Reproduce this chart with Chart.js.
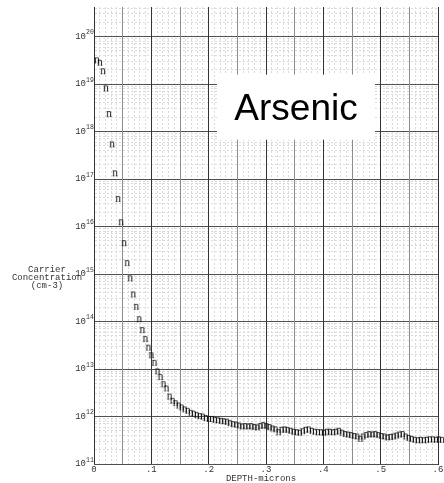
<!DOCTYPE html>
<html>
<head>
<meta charset="utf-8">
<script src="https://cdn.jsdelivr.net/npm/chart.js@4.4.1/dist/chart.umd.min.js"></script>
<style>
  html, body { margin: 0; padding: 0; background: #fff; }
  canvas { display: block; }
</style>
</head>
<body>
<canvas id="profile" width="444" height="483"></canvas>
<script>
// Depth below the surface (microns)
const depthMicrons = [
  0.0000, 0.0053, 0.0106, 0.0158, 0.0211, 0.0264, 0.0317, 0.0370, 0.0422, 0.0475,
  0.0528, 0.0581, 0.0634, 0.0686, 0.0739, 0.0792, 0.0845, 0.0898, 0.0950, 0.1003,
  0.1056, 0.1109, 0.1162, 0.1214, 0.1267, 0.1320, 0.1373, 0.1426, 0.1478, 0.1531,
  0.1584, 0.1637, 0.1690, 0.1742, 0.1795, 0.1848, 0.1901, 0.1954, 0.2006, 0.2059,
  0.2112, 0.2165, 0.2218, 0.2270, 0.2323, 0.2376, 0.2429, 0.2482, 0.2534, 0.2587,
  0.2640, 0.2693, 0.2746, 0.2798, 0.2851, 0.2904, 0.2957, 0.3010, 0.3062, 0.3115,
  0.3168, 0.3221, 0.3274, 0.3326, 0.3379, 0.3432, 0.3485, 0.3538, 0.3590, 0.3643,
  0.3696, 0.3749, 0.3802, 0.3854, 0.3907, 0.3960, 0.4013, 0.4066, 0.4118, 0.4171,
  0.4224, 0.4277, 0.4330, 0.4382, 0.4435, 0.4488, 0.4541, 0.4594, 0.4646, 0.4699,
  0.4752, 0.4805, 0.4858, 0.4910, 0.4963, 0.5016, 0.5069, 0.5122, 0.5174, 0.5227,
  0.5280, 0.5333, 0.5386, 0.5438, 0.5491, 0.5544, 0.5597, 0.5650, 0.5702, 0.5755,
  0.5808, 0.5861, 0.5914, 0.5966, 0.6019, 0.6072
];

// Electron (n-type) carrier concentration (cm-3)
const carrierConc = [
  3.16e19, 2.82e19, 1.86e19, 8.13e18, 2.34e18, 5.37e17, 1.32e17, 3.80e16, 1.23e16, 4.47e15,
  1.70e15, 8.13e14, 3.72e14, 2.04e14, 1.12e14, 6.61e13, 4.27e13, 2.82e13, 1.95e13, 1.35e13,
  8.91e12, 6.76e12, 4.79e12, 3.89e12, 2.63e12, 2.14e12, 1.91e12, 1.70e12, 1.55e12, 1.41e12,
  1.32e12, 1.20e12, 1.15e12, 1.07e12, 1.02e12, 1.00e12, 9.33e11, 8.91e11, 8.91e11, 8.51e11,
  8.32e11, 8.13e11, 7.94e11, 7.76e11, 7.24e11, 6.92e11, 6.76e11, 6.46e11, 6.17e11, 6.31e11,
  6.17e11, 6.31e11, 6.03e11, 5.89e11, 6.31e11, 6.61e11, 6.31e11, 6.03e11, 5.62e11, 5.37e11,
  4.68e11, 5.25e11, 5.37e11, 5.25e11, 5.01e11, 4.79e11, 4.68e11, 4.57e11, 4.90e11, 5.25e11,
  5.37e11, 5.01e11, 4.79e11, 4.68e11, 4.68e11, 4.57e11, 4.79e11, 4.79e11, 4.68e11, 4.79e11,
  5.01e11, 4.57e11, 4.27e11, 4.17e11, 4.07e11, 3.89e11, 3.80e11, 3.39e11, 3.80e11, 4.07e11,
  4.27e11, 4.17e11, 4.27e11, 4.07e11, 3.89e11, 3.80e11, 3.63e11, 3.72e11, 3.80e11, 3.98e11,
  4.17e11, 4.27e11, 3.80e11, 3.55e11, 3.39e11, 3.24e11, 3.16e11, 3.24e11, 3.16e11, 3.24e11,
  3.31e11, 3.31e11, 3.24e11, 3.31e11, 3.24e11, 3.31e11
];

// Axis labelling
const xTickLabels = ['0', '.1', '.2', '.3', '.4', '.5', '.6'];
const yDecades = [11, 12, 13, 14, 15, 16, 17, 18, 19, 20];
const yMantissas = [1, 2, 3, 4, 5, 6, 7, 8, 9];
const yTitleLines = ['Carrier', 'Concentration', '(cm-3)'];
const xTitle = 'DEPTH-microns';
const speciesName = 'Arsenic';

const MONO = '"Courier New", "Liberation Mono", monospace';
const TEXT_COLOR = '#333';
const MINOR_GRID = '#dadada';

// Plot symbol: the letter "n", placed with its left edge on the point
function letterGlyph(ch) {
  const c = document.createElement('canvas');
  c.width = 14;
  c.height = 12;
  const g = c.getContext('2d');
  g.font = '11.5px "Liberation Serif", "DejaVu Serif", serif';
  g.fillStyle = '#111';
  g.textAlign = 'left';
  g.textBaseline = 'alphabetic';
  g.fillText(ch, 7, 8.5);
  return c;
}

const points = depthMicrons.map((d, i) => ({ x: d, y: carrierConc[i] }));

function xHundredths(v) { return Math.round(v * 100); }
function isMajorX(v) { return xHundredths(v) % 5 === 0; }

// Species name box, anchored in data space
const nameBox = { x0: 0.2145, x1: 0.49, yLow: 6.76e17, yHigh: 1.58e19, textX: 0.3523, textY: 1.78e18 };

function crisp(p) { return Math.round(p - 0.5) + 0.5; }

const decorations = {
  id: 'decorations',
  beforeDatasetsDraw(chart) {
    const { ctx, chartArea: a, scales: { x, y } } = chart;
    ctx.save();
    ctx.lineWidth = 1;
    // Heavy grid lines go over the light ones
    y.ticks.filter(t => t.major).forEach(t => {
      const py = crisp(y.getPixelForValue(t.value));
      ctx.strokeStyle = '#505050';
      ctx.beginPath(); ctx.moveTo(a.left, py); ctx.lineTo(a.right, py); ctx.stroke();
    });
    x.ticks.filter(t => isMajorX(t.value)).forEach(t => {
      const px = crisp(x.getPixelForValue(t.value));
      ctx.strokeStyle = xHundredths(t.value) % 10 === 0 ? '#333' : '#8c8c8c';
      ctx.beginPath(); ctx.moveTo(px, a.top); ctx.lineTo(px, a.bottom); ctx.stroke();
    });

    // Species name on a white panel
    const l = x.getPixelForValue(nameBox.x0);
    const r = x.getPixelForValue(nameBox.x1);
    const t = y.getPixelForValue(nameBox.yHigh);
    const b = y.getPixelForValue(nameBox.yLow);
    ctx.fillStyle = '#ffffff';
    ctx.fillRect(l, t, r - l, b - t);
    ctx.fillStyle = '#000';
    ctx.font = '37px "Liberation Sans", Arial, sans-serif';
    ctx.textAlign = 'center';
    ctx.textBaseline = 'alphabetic';
    ctx.fillText(speciesName, x.getPixelForValue(nameBox.textX), y.getPixelForValue(nameBox.textY));
    ctx.restore();
  },
  afterDraw(chart) {
    const { ctx, chartArea, scales: { y } } = chart;
    ctx.save();
    ctx.fillStyle = TEXT_COLOR;
    // Decade labels 10^n
    yDecades.forEach(e => {
      const py = y.getPixelForValue(Math.pow(10, e));
      ctx.font = '9px ' + MONO;
      ctx.textAlign = 'right';
      ctx.textBaseline = 'middle';
      ctx.fillText('10', chartArea.left - 8, py);
      ctx.font = '6.5px ' + MONO;
      ctx.textAlign = 'left';
      ctx.fillText(String(e), chartArea.left - 8, py - 4);
    });
    // Horizontal y-axis title
    ctx.font = '9px ' + MONO;
    ctx.textAlign = 'center';
    ctx.textBaseline = 'middle';
    yTitleLines.forEach((line, i) => {
      ctx.fillText(line, 47, 269.5 + i * 8.3);
    });
    // x-axis title
    ctx.fillText(xTitle, 261, 478.5);
    ctx.restore();
  }
};

new Chart(document.getElementById('profile'), {
  type: 'scatter',
  data: {
    datasets: [{
      data: points,
      showLine: false,
      pointStyle: letterGlyph('n'),
      pointRadius: 3,
      clip: false
    }]
  },
  options: {
    responsive: false,
    animation: false,
    events: [],
    layout: { padding: { top: 7, right: 6, left: 0, bottom: 0 } },
    plugins: { legend: { display: false }, tooltip: { enabled: false } },
    scales: {
      x: {
        type: 'linear',
        min: 0,
        max: 0.6,
        afterFit(scale) { scale.height = 19; },
        ticks: {
          stepSize: 0.01,
          autoSkip: false,
          maxRotation: 0,
          padding: 0,
          color: TEXT_COLOR,
          font: { family: MONO, size: 9 },
          callback(v) {
            const k = xHundredths(v);
            return k % 10 === 0 ? xTickLabels[k / 10] : '';
          }
        },
        grid: {
          drawTicks: false,
          lineWidth: 1,
          color(ctx) {
            if (!ctx.tick) return MINOR_GRID;
            return isMajorX(ctx.tick.value) ? 'rgba(0,0,0,0)' : MINOR_GRID;
          }
        },
        border: {
          color: '#222',
          width: 1,
          dash(ctx) {
            if (!ctx.tick) return [];
            return isMajorX(ctx.tick.value) ? [] : [2, 2];
          }
        }
      },
      y: {
        type: 'logarithmic',
        min: 1e11,
        max: 4.2e20,
        afterFit(scale) { scale.width = 94; },
        afterBuildTicks(scale) {
          const ticks = [];
          yDecades.forEach(e => {
            yMantissas.forEach(m => {
              const v = m * Math.pow(10, e);
              if (v <= scale.max) ticks.push({ value: v, major: m === 1 });
            });
          });
          scale.ticks = ticks;
        },
        ticks: { display: false, autoSkip: false },
        grid: {
          drawTicks: false,
          lineWidth: 1,
          color(ctx) {
            if (!ctx.tick) return MINOR_GRID;
            return ctx.tick.major ? 'rgba(0,0,0,0)' : MINOR_GRID;
          }
        },
        border: {
          color: '#222',
          width: 1,
          dash(ctx) {
            if (!ctx.tick) return [];
            return ctx.tick.major ? [] : [2, 2];
          }
        }
      }
    }
  },
  plugins: [decorations]
});
</script>
</body>
</html>
